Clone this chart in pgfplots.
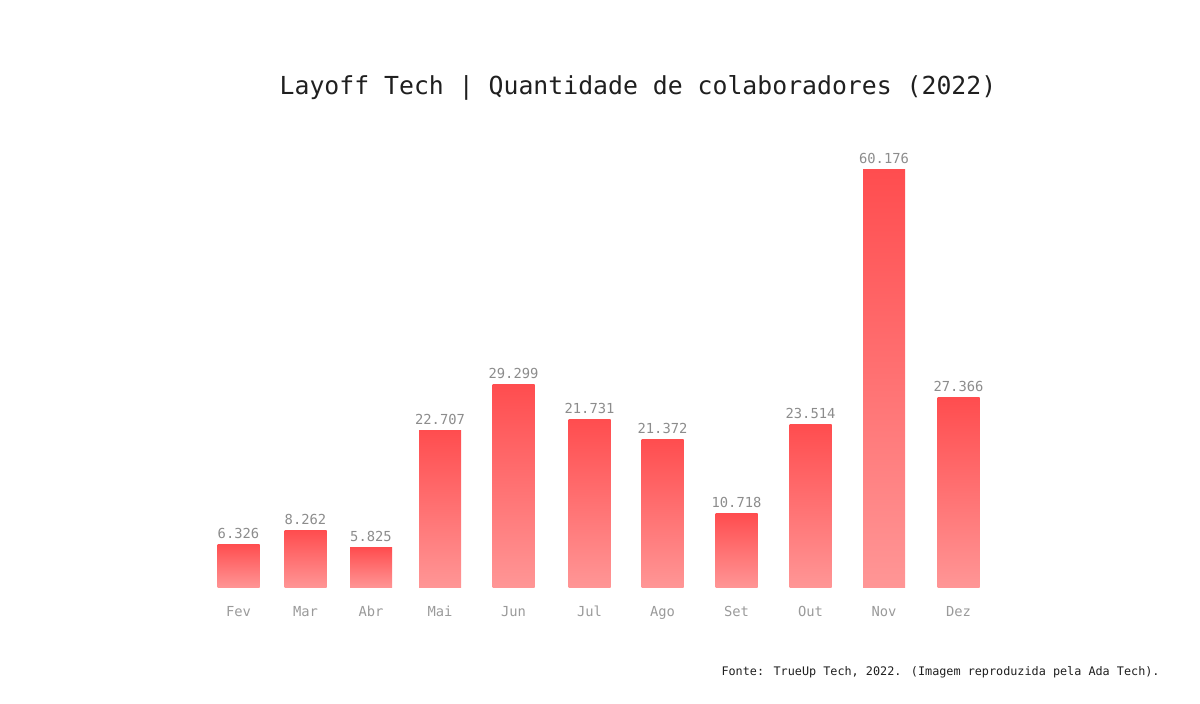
\documentclass[border=0pt]{standalone}
\usepackage{pgfplots}
\pgfplotsset{compat=1.18}
\usepackage{fontspec}
\setmainfont{DejaVu Sans Mono}
\definecolor{barTop}{HTML}{FF4D4F}
\definecolor{barMid}{HTML}{FF5759}
\definecolor{barBot}{HTML}{FF9696}
\definecolor{lblGray}{HTML}{8C8C8C}
\definecolor{tickGray}{HTML}{9A9A9A}
\definecolor{titleCol}{HTML}{1F1F1F}
\begin{document}
\begin{tikzpicture}
\useasboundingbox (0,0) rectangle (600pt,352pt);
\begin{axis}[
  at={(90pt,58pt)}, anchor=south west,
  scale only axis, width=420pt, height=225.8pt,
  xmin=180, xmax=1020, ymin=0, ymax=65000,
  axis line style={draw=none},
  major tick length=0pt,
  ytick=\empty,
  xtick={238.5,305.5,371,440,513.5,589.5,662.5,736.5,810.5,884,958.5},
  xticklabels={Fev,Mar,Abr,Mai,Jun,Jul,Ago,Set,Out,Nov,Dez},
  xticklabel style={font=\fontsize{6.9pt}{8pt}\selectfont, text=tickGray, anchor=base, yshift=-14.5pt},
  clip=false,
  mybar/.style={ybar, bar shift=0pt, bar width=21pt, draw=none,
    top color=barTop, middle color=barMid, bottom color=barBot,
    point meta=explicit symbolic, nodes near coords,
    nodes near coords style={font=\fontsize{6.9pt}{8pt}\selectfont, text=lblGray, anchor=base, yshift=3pt, inner sep=0pt}},
]
\addplot[mybar] coordinates {(238.5,6326) [6.326]};
\addplot[mybar] coordinates {(305.5,8262) [8.262]};
\addplot[mybar] coordinates {(371,5825) [5.825]};
\addplot[mybar] coordinates {(440,22707) [22.707]};
\addplot[mybar] coordinates {(513.5,29299) [29.299]};
\addplot[mybar] coordinates {(589.5,24290) [21.731]};
\addplot[mybar] coordinates {(662.5,21400) [21.372]};
\addplot[mybar] coordinates {(736.5,10718) [10.718]};
\addplot[mybar] coordinates {(810.5,23514) [23.514]};
\addplot[mybar] coordinates {(884,60176) [60.176]};
\addplot[mybar] coordinates {(958.5,27366) [27.366]};
\end{axis}
\node[anchor=base, text=titleCol, font=\fontsize{12.4pt}{14pt}\selectfont, inner sep=0pt] at (319pt,304.5pt) {Layoff Tech | Quantidade de colaboradores (2022)};
\node[anchor=base east, text=titleCol, font=\fontsize{5.9pt}{7pt}\selectfont, inner sep=0pt] at (580pt,14pt) {Fonte: TrueUp Tech, 2022. (Imagem reproduzida pela Ada Tech).};
\end{tikzpicture}
\end{document}
